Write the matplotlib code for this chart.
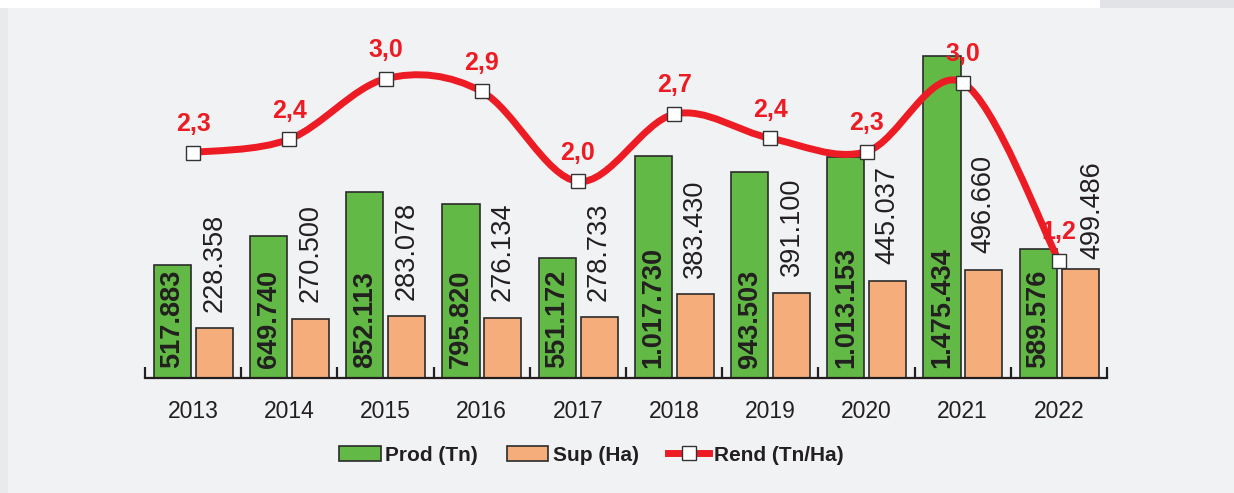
import matplotlib.pyplot as plt
from matplotlib.path import Path
from matplotlib.patches import PathPatch, Patch, Rectangle
from matplotlib.lines import Line2D

years = ['2013', '2014', '2015', '2016', '2017', '2018', '2019', '2020', '2021', '2022']
prod = [517883, 649740, 852113, 795820, 551172, 1017730, 943503, 1013153, 1475434, 589576]
sup = [228358, 270500, 283078, 276134, 278733, 383430, 391100, 445037, 496660, 499486]
rend = [2.268, 2.402, 3.010, 2.882, 1.977, 2.654, 2.412, 2.277, 2.971, 1.180]

GREEN = '#62b946'
ORANGE = '#f5ae7b'
RED = '#ed1c24'
INK = '#231f20'
BG = '#f1f2f4'

plt.rcParams['font.family'] = ['Liberation Sans', 'DejaVu Sans']

fig = plt.figure(figsize=(12.34, 4.93), dpi=100, facecolor=BG)
# white strip on top, shaded edges
fig.patches.append(Rectangle((0, 1 - 8 / 493), 1, 8 / 493, transform=fig.transFigure,
                             facecolor='white', edgecolor='none', zorder=0))
fig.patches.append(Rectangle((1100 / 1234, 1 - 8 / 493), 134 / 1234, 8 / 493,
                             transform=fig.transFigure, facecolor='#e2e3e6',
                             edgecolor='none', zorder=0))
fig.patches.append(Rectangle((0, 0), 8 / 1234, 1 - 8 / 493, transform=fig.transFigure,
                             facecolor='#e9eaec', edgecolor='none', zorder=0))

ax = fig.add_axes([145 / 1234, 115 / 493, 962 / 1234, 338 / 493])
ax.set_facecolor('none')
x = list(range(len(years)))
w = 0.385

ax.bar([i - 0.215 for i in x], prod, width=w, color=GREEN, edgecolor='#2b2b2b', linewidth=1.2)
ax.bar([i + 0.22 for i in x], sup, width=w, color=ORANGE, edgecolor='#2b2b2b', linewidth=1.2)

def fmt(v):
    return f"{v:,}".replace(',', '.')

for i in x:
    ax.annotate(fmt(prod[i]), (i - 0.215, 0), xytext=(0, 7), textcoords='offset points',
                rotation=90, ha='center', va='bottom', fontsize=19.5, fontweight='bold', color=INK)
    # last label sits a bit to the right, clear of the line label
    dx, dy = (9, 7) if i == len(years) - 1 else (0, 12)
    ax.annotate(fmt(sup[i]), (i + 0.22, sup[i]), xytext=(dx, dy), textcoords='offset points',
                rotation=90, ha='center', va='bottom', fontsize=19.5, color=INK)

ax.set_xlim(-0.5, len(years) - 0.5)
ax.set_ylim(0, 1550000)
for s in ['left', 'right', 'top']:
    ax.spines[s].set_visible(False)
ax.spines['bottom'].set_linewidth(1.6)
ax.spines['bottom'].set_color(INK)
ax.set_yticks([])
ax.set_xticks(x, years)
ax.set_xticks([i - 0.5 for i in range(len(years) + 1)], minor=True)
ax.tick_params(axis='x', which='major', length=0, pad=16, labelsize=16.5, labelcolor=INK)
ax.tick_params(axis='x', which='minor', direction='in', length=8, width=1.6, color=INK)

# smoothed line (Excel-style bezier through the points)
ax2 = ax.twinx()
ax2.set_ylim(0, 3.4)
ax2.axis('off')
pts = list(zip(x, rend))
verts = [pts[0]]
codes = [Path.MOVETO]
for k in range(len(pts) - 1):
    p0 = pts[k - 1] if k > 0 else pts[k]
    p1 = pts[k]
    p2 = pts[k + 1]
    p3 = pts[k + 2] if k + 2 < len(pts) else pts[k + 1]
    c1 = (p1[0] + (p2[0] - p0[0]) / 6, p1[1] + (p2[1] - p0[1]) / 6)
    c2 = (p2[0] - (p3[0] - p1[0]) / 6, p2[1] - (p3[1] - p1[1]) / 6)
    verts += [c1, c2, p2]
    codes += [Path.CURVE4] * 3
ax2.add_patch(PathPatch(Path(verts, codes), facecolor='none', edgecolor=RED, linewidth=5,
                        capstyle='round', zorder=3))
ax2.plot(x, rend, linestyle='none', marker='s', markersize=9.5, markerfacecolor='white',
         markeredgecolor='#333333', markeredgewidth=1, zorder=4)
for i in x:
    ax2.annotate(f"{rend[i]:.1f}".replace('.', ','), (i, rend[i]), xytext=(0, 12),
                 textcoords='offset points', ha='center', va='bottom', fontsize=18,
                 fontweight='bold', color=RED, zorder=5)

handles = [Patch(facecolor=GREEN, edgecolor='#2b2b2b', linewidth=1.2),
           Patch(facecolor=ORANGE, edgecolor='#2b2b2b', linewidth=1.2),
           Line2D([], [], color=RED, linewidth=5, marker='s', markersize=9.5,
                  markerfacecolor='white', markeredgecolor='#333333', markeredgewidth=1)]
fig.legend(handles, ['Prod (Tn)', 'Sup (Ha)', 'Rend (Tn/Ha)'], loc='center',
           bbox_to_anchor=(0.479, 0.077), ncol=3, frameon=False,
           prop={'size': 15, 'weight': 'bold'}, handlelength=2.0, handletextpad=0.2,
           columnspacing=1.4, labelcolor=INK)

fig.savefig('out.png', dpi=100, facecolor=BG)
